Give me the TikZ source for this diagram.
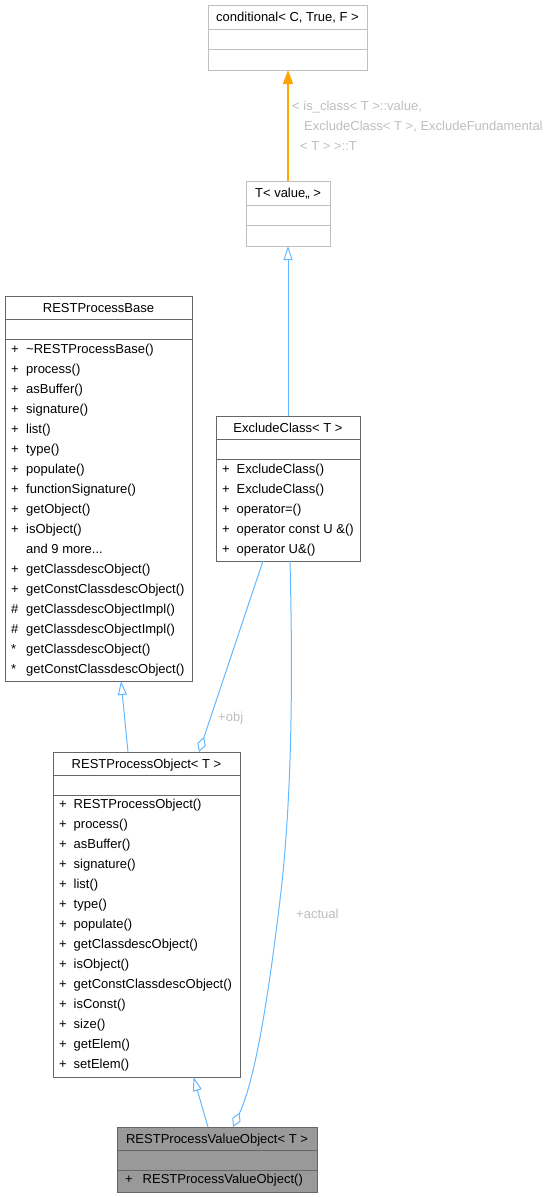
\documentclass[tikz,border=0pt]{standalone}
\usepackage{fontspec}
\setmainfont{Liberation Sans}
\usetikzlibrary{arrows.meta}
\definecolor{edgeblue}{HTML}{63B8FF}
\definecolor{doxorange}{HTML}{FFA500}
\definecolor{bordgray}{HTML}{666666}
\definecolor{lightbord}{HTML}{BFBFBF}
\definecolor{lblgray}{HTML}{BEBEBE}
\definecolor{rootfill}{HTML}{999999}
\tikzset{
  cls/.style={draw=bordgray, fill=white, line width=1pt, inner sep=0pt, outer sep=0pt, anchor=north west},
  ucls/.style={cls, draw=lightbord},
  rootcls/.style={cls, fill=rootfill},
  sepline/.style={draw=bordgray, line width=1pt},
  usepline/.style={draw=lightbord, line width=1pt},
  txt/.style={font=\fontsize{13}{15}\selectfont, inner sep=0pt, text height=9.4pt, text depth=0pt},
  ttl/.style={txt, anchor=center},
  mem/.style={txt, anchor=west},
  lbl/.style={txt, anchor=west, text=lblgray},
  inh/.style={draw=edgeblue, line width=1pt, -{Triangle[open, length=14pt, width=9pt]}},
  tmpl/.style={draw=doxorange, line width=1.3pt, -{Triangle[length=14pt, width=10pt]}},
  aggr/.style={draw=edgeblue, line width=1pt, -{Diamond[open, length=16pt, width=9pt]}}
}
\begin{document}
\begin{tikzpicture}[x=1pt, y=-1pt]
\useasboundingbox (0,0) rectangle (555,1197);

% conditional
\node[ucls, minimum width=159pt, minimum height=65pt] (cond) at (208,5) {};
\draw[usepline] ([yshift=-24pt]cond.north west) -- ([yshift=-24pt]cond.north east);
\draw[usepline] ([yshift=-44pt]cond.north west) -- ([yshift=-44pt]cond.north east);
\node[ttl] (condt) at (287.5,17) {conditional< C, True, F >};

% T< value,, >
\node[ucls, minimum width=84pt, minimum height=65pt] (tv) at (246,181) {};
\draw[usepline] ([yshift=-24pt]tv.north west) -- ([yshift=-24pt]tv.north east);
\draw[usepline] ([yshift=-44pt]tv.north west) -- ([yshift=-44pt]tv.north east);
\node[ttl] (tvt) at (288,193) {T< value,, >};

% RESTProcessBase
\node[cls, minimum width=187pt, minimum height=385pt] (base) at (5,296) {};
\draw[sepline] ([yshift=-23pt]base.north west) -- ([yshift=-23pt]base.north east);
\draw[sepline] ([yshift=-43pt]base.north west) -- ([yshift=-43pt]base.north east);
\node[ttl] (baset) at (98.5,307.5) {RESTProcessBase};
\foreach \s/\t [count=\i] in {+/{\textasciitilde RESTProcessBase()}, +/{process()}, +/{asBuffer()}, +/{signature()}, +/{list()}, +/{type()}, +/{populate()}, +/{functionSignature()}, +/{getObject()}, +/{isObject()}, {}/{and 9 more...}, +/{getClassdescObject()}, +/{getConstClassdescObject()}, \#/{getClassdescObjectImpl()}, \#/{getClassdescObjectImpl()}, */{getClassdescObject()}, */{getConstClassdescObject()}}{
  \node[mem] (base-s\i) at (11,{349+20*(\i-1)}) {\s};
  \node[mem] (base-m\i) at (26,{349+20*(\i-1)}) {\t};
}

% ExcludeClass
\node[cls, minimum width=144pt, minimum height=145pt] (exc) at (216,416) {};
\draw[sepline] ([yshift=-23pt]exc.north west) -- ([yshift=-23pt]exc.north east);
\draw[sepline] ([yshift=-43pt]exc.north west) -- ([yshift=-43pt]exc.north east);
\node[ttl] (exct) at (288,427.5) {ExcludeClass< T >};
\foreach \t [count=\i] in {{ExcludeClass()}, {ExcludeClass()}, {operator=()}, {operator const U \&()}, {operator U\&()}}{
  \node[mem] (exc-s\i) at (222,{469+20*(\i-1)}) {+};
  \node[mem] (exc-m\i) at (236.5,{469+20*(\i-1)}) {\t};
}

% RESTProcessObject
\node[cls, minimum width=187pt, minimum height=325pt] (rpo) at (53,752) {};
\draw[sepline] ([yshift=-23pt]rpo.north west) -- ([yshift=-23pt]rpo.north east);
\draw[sepline] ([yshift=-43pt]rpo.north west) -- ([yshift=-43pt]rpo.north east);
\node[ttl] (rpot) at (146.5,763.5) {RESTProcessObject< T >};
\foreach \t [count=\i] in {{RESTProcessObject()}, {process()}, {asBuffer()}, {signature()}, {list()}, {type()}, {populate()}, {getClassdescObject()}, {isObject()}, {getConstClassdescObject()}, {isConst()}, {size()}, {getElem()}, {setElem()}}{
  \node[mem] (rpo-s\i) at (59,{804+20*(\i-1)}) {+};
  \node[mem] (rpo-m\i) at (73.5,{804+20*(\i-1)}) {\t};
}

% RESTProcessValueObject
\node[rootcls, minimum width=200pt, minimum height=65pt] (rpvo) at (117,1127) {};
\draw[sepline] ([yshift=-23pt]rpvo.north west) -- ([yshift=-23pt]rpvo.north east);
\draw[sepline] ([yshift=-43pt]rpvo.north west) -- ([yshift=-43pt]rpvo.north east);
\node[ttl] (rpvot) at (217,1138.5) {RESTProcessValueObject< T >};
\node[mem] (rpvo-s1) at (125,1179) {+};
\node[mem] (rpvo-m1) at (142.5,1179) {RESTProcessValueObject()};

% connectors
\draw[tmpl] (tv.north) -- (tv.north |- cond.south);
\node[lbl] (tl1) at (292,106) {< is\_class< T >::value,};
\node[lbl] (tl2) at (304,126) {ExcludeClass< T >, ExcludeFundamental};
\node[lbl] (tl3) at (300,146) {< T > >::T};

\draw[inh] (exc.north) -- (tv.south);
\draw[inh] ([xshift=-18.5pt]rpo.north) -- ([xshift=22.5pt]base.south);
\draw[inh] ([xshift=-9pt]rpvo.north) -- ([xshift=47pt]rpo.south);

\draw[aggr] ([xshift=-25pt]exc.south) -- ([xshift=52.5pt]rpo.north);
\node[lbl] (lobj) at (218,717) {+obj};

\draw[aggr] ([xshift=2pt]exc.south) .. controls (293,680) and (292,800) .. (280,900)
  .. controls (268,1000) and (255,1080) .. ([xshift=16pt]rpvo.north);
\node[lbl] (lact) at (296,914) {+actual};
\end{tikzpicture}
\end{document}
